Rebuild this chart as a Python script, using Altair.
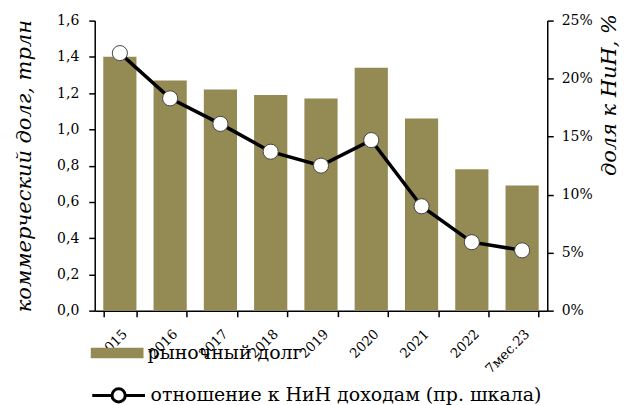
import altair as alt
import pandas as pd

cats = ["2015", "2016", "2017", "2018", "2019", "2020", "2021", "2022", "7мес.23"]
debt = [1.40, 1.27, 1.22, 1.19, 1.17, 1.34, 1.06, 0.78, 0.69]
share = [0.222, 0.183, 0.161, 0.137, 0.125, 0.147, 0.090, 0.059, 0.052]
s1 = "рыночный долг"
s2 = "отношение к НиН доходам (пр. шкала)"

df = pd.DataFrame({"cat": cats, "debt": debt, "share": share, "s1": s1, "s2": s2})

FONT = "DejaVu Serif"
OLIVE = "#948A54"

xenc_bar = alt.X("cat:N", sort=cats, title=None,
                 scale=alt.Scale(paddingInner=0.34, paddingOuter=0.17),
                 axis=alt.Axis(orient="bottom", labelAngle=-45, ticks=True, tickBand="extent",
                               tickColor="black", tickWidth=1.5, tickSize=6, domain=True,
                               domainColor="black", domainWidth=1.5, labelFont=FONT,
                               labelFontSize=13.5, labelColor="black", labelPadding=10))

bars = alt.Chart(df).mark_bar(color=OLIVE).encode(
    x=xenc_bar,
    y=alt.Y("debt:Q", scale=alt.Scale(domain=[0, 1.6]),
            title="коммерческий долг, трлн",
            axis=alt.Axis(values=[0, 0.2, 0.4, 0.6, 0.8, 1.0, 1.2, 1.4, 1.6],
                          labelExpr="replace(format(datum.value, '.1f'), '.', ',')",
                          grid=False, domainColor="black", domainWidth=1.5,
                          tickColor="black", tickWidth=1.5, tickSize=6, labelPadding=10,
                          labelFont=FONT, labelFontSize=14, labelColor="black",
                          titleFont=FONT, titleFontSize=21, titleFontStyle="italic",
                          titleFontWeight="normal", titleColor="black", titlePadding=22)),
    fill=alt.Fill("s1:N", scale=alt.Scale(domain=[s1], range=[OLIVE]),
                  legend=alt.Legend(title=None, orient="none", legendX=-4, legendY=307,
                                    symbolType="M-1,-0.2H1V0.2H-1Z", symbolSize=2800,
                                    symbolStrokeWidth=0, labelFont=FONT, labelFontSize=19,
                                    labelColor="black", padding=0, labelOffset=4,
                                    labelLimit=500)),
)

yshare = alt.Y("share:Q", scale=alt.Scale(domain=[0, 0.25]),
               title="доля к НиН, %",
               axis=alt.Axis(orient="right", values=[0, 0.05, 0.1, 0.15, 0.2, 0.25],
                             format=".0%", grid=False, domainColor="black", domainWidth=1.5,
                             tickColor="black", tickWidth=1.5, tickSize=6, labelPadding=8,
                             labelFont=FONT, labelFontSize=14, labelColor="black",
                             titleFont=FONT, titleFontSize=21, titleFontStyle="italic",
                             titleFontWeight="normal", titleColor="black",
                             titleAngle=270, titleAlign="right", titleY=-7,
                             titlePadding=27))

line = alt.Chart(df).mark_line(strokeWidth=3.5).encode(
    x=alt.X("cat:N", sort=cats),
    y=yshare,
    stroke=alt.Stroke("s2:N", scale=alt.Scale(domain=[s2], range=["black"]),
                      legend=alt.Legend(title=None, orient="none", legendX=-4, legendY=348,
                                        symbolType="M-1,0H-0.25M0.25,0H1M-0.25,0A0.25,0.25 0 1,0 0.25,0A0.25,0.25 0 1,0 -0.25,0",
                                        symbolSize=2800, symbolStrokeWidth=3,
                                        symbolFillColor="white", labelFont=FONT,
                                        labelFontSize=19, labelColor="black", padding=0,
                                        labelOffset=4, labelLimit=500)),
)

points = alt.Chart(df).mark_point(filled=True, fill="white", stroke="#444", strokeWidth=1,
                                  size=230, opacity=1).encode(
    x=alt.X("cat:N", sort=cats),
    y=alt.Y("share:Q", scale=alt.Scale(domain=[0, 0.25]), axis=None),
)

chart = alt.layer(bars, line, points).resolve_scale(
    y="independent", fill="independent", stroke="independent"
).properties(
    width=454, height=291,
    autosize=alt.AutoSizeParams(type="none"),
    padding={"left": 87, "top": 12, "right": 78, "bottom": 94},
).configure_view(stroke=None)

chart.save("out.html", embed_options={"renderer": "svg", "actions": False})
